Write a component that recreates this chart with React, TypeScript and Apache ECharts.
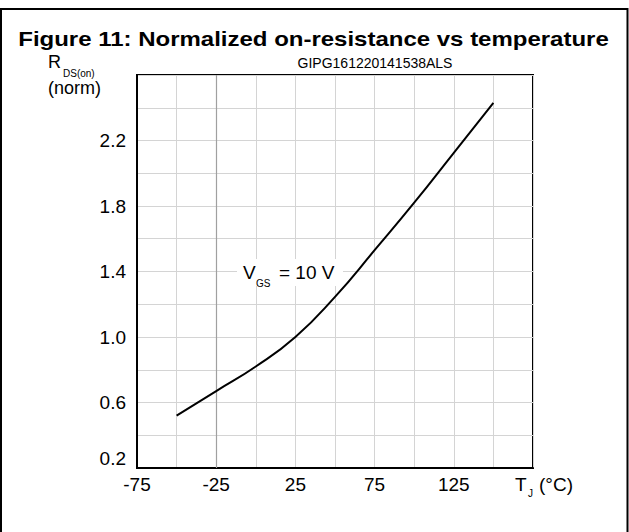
import React, { useEffect, useRef } from "react";
import * as echarts from "echarts";

const temps = [-50, -25, 0, 25, 50, 75, 100, 125, 150];
const rdsOn = [0.52, 0.67, 0.82, 1.0, 1.245, 1.53, 1.82, 2.125, 2.43];
const xTickLabels = [-75, -25, 25, 75, 125];
const yTickLabels = [0.2, 0.6, 1.0, 1.4, 1.8, 2.2];
const highlightTemp = -25;

const FONT = '"Liberation Sans", Arial, Helvetica, sans-serif';

function txt(text: string, x: number, y: number, size: number, opts: any = {}) {
  const align = opts.align || "left";
  return {
    type: "text",
    x,
    y,
    scaleX: opts.scaleX || 1,
    z: 100,
    style: {
      text,
      fontSize: size,
      fontFamily: FONT,
      fontWeight: opts.bold ? "bold" : "normal",
      fill: "#000",
      align,
      textAlign: align,
      verticalAlign: "middle",
      textVerticalAlign: "middle",
    },
  };
}

export default function App() {
  const ref = useRef<HTMLDivElement>(null);
  useEffect(() => {
    if (!ref.current) return;
    const chart = echarts.init(ref.current, null, { renderer: "svg" });
    const near = (arr: number[], v: number) => arr.some((a) => Math.abs(a - v) < 1e-6);
    chart.setOption({
      animation: false,
      backgroundColor: "#fff",
      grid: {
        left: 137,
        right: 96,
        top: 75,
        bottom: 64,
        show: true,
        borderColor: "#000",
        borderWidth: 2,
      },
      xAxis: {
        type: "value",
        min: -75,
        max: 175,
        interval: 25,
        axisLine: { show: true, onZero: false, lineStyle: { color: "#000", width: 2 } },
        axisTick: { show: false },
        splitLine: { show: true, lineStyle: { color: "#d4d4d4", width: 1 } },
        axisLabel: {
          color: "#000",
          fontSize: 19,
          fontFamily: FONT,
          margin: 7,
          formatter: (v: number) => (near(xTickLabels, v) ? String(v) : ""),
        },
      },
      yAxis: {
        type: "value",
        min: 0.2,
        max: 2.6,
        interval: 0.2,
        axisLine: { show: true, onZero: false, lineStyle: { color: "#000", width: 2 } },
        axisTick: { show: false },
        splitLine: { show: true, lineStyle: { color: "#d4d4d4", width: 1 } },
        axisLabel: {
          color: "#000",
          fontSize: 19,
          fontFamily: FONT,
          margin: 11,
          verticalAlignMinLabel: "bottom",
          formatter: (v: number) => (near(yTickLabels, v) ? v.toFixed(1) : ""),
        },
      },
      series: [
        {
          type: "line",
          data: temps.map((t, i) => [t, rdsOn[i]]),
          showSymbol: false,
          smooth: 0.5,
          lineStyle: { color: "#000", width: 2 },
          z: 5,
          markLine: {
            silent: true,
            symbol: ["none", "none"],
            label: { show: false },
            lineStyle: { color: "#a0a0a0", width: 1.2, type: "solid" },
            data: [{ xAxis: highlightTemp }],
            z: 1,
          },
        },
      ],
      graphic: [
        {
          type: "rect",
          z: 100,
          shape: { x: 1, y: 9, width: 626.5, height: 600 },
          style: { fill: "none", stroke: "#000", lineWidth: 2 },
        },
        txt("Figure 11: Normalized on-resistance vs temperature", 313.5, 39, 20, { bold: true, align: "center", scaleX: 1.2 }),
        txt("GIPG161220141538ALS", 375, 63, 14, { align: "center" }),
        txt("R", 48, 62, 18),
        txt("DS(on)", 63, 73, 10),
        txt("(norm)", 48, 88, 18),
        txt("T", 515, 484, 19),
        txt("J", 528, 493, 10),
        txt("(°C)", 539, 484, 19),
        {
          type: "rect",
          z: 3,
          shape: { x: 237, y: 259, width: 106, height: 27 },
          style: { fill: "#fff", stroke: "none" },
        },
        txt("V", 243, 272, 19),
        txt("GS", 256, 283, 10),
        txt("= 10 V", 279, 272, 19),
      ],
    });
    return () => chart.dispose();
  }, []);
  return (
    <div
      ref={ref}
      style={{ position: "fixed", left: 0, top: 0, width: 629, height: 532, background: "#fff" }}
    />
  );
}
